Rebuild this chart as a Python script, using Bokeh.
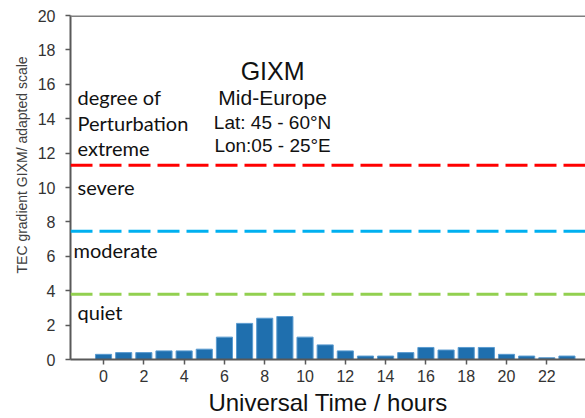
from bokeh.plotting import figure
from bokeh.models import Span, Label, FixedTicker, Range1d, Title
from bokeh.embed import file_html
from bokeh.resources import INLINE

# ---- data ----
hours = list(range(24))
tec = [0.3, 0.4, 0.4, 0.5, 0.5, 0.6, 1.3, 2.1, 2.4, 2.5, 1.3, 0.85,
       0.5, 0.2, 0.2, 0.4, 0.7, 0.55, 0.7, 0.7, 0.3, 0.2, 0.1, 0.2]
thresholds = [11.3, 7.45, 3.8]
threshold_colors = ["#ff0000", "#00b0f0", "#92d050"]
x_ticks = list(range(0, 25, 2))
y_ticks = list(range(0, 21, 2))
level_labels = ["degree of", "Perturbation", "extreme", "severe", "moderate", "quiet"]
title_lines = ["GIXM", "Mid-Europe", "Lat: 45 - 60°N", "Lon:05 - 25°E"]
x_title = "Universal Time / hours"
y_title = "TEC gradient GIXM/ adapted scale"

p = figure(width=585, height=418, output_backend="svg", toolbar_location=None,
           x_range=Range1d(-1.64, 23.92), y_range=Range1d(0, 20),
           min_border_left=70, min_border_right=0, min_border_top=15,
           min_border_bottom=58)
p.outline_line_color = None
p.xgrid.visible = False
p.ygrid.visible = False
p.background_fill_color = "white"
p.border_fill_color = "white"

p.vbar(x=hours, top=tec, width=0.8, fill_color="#1f6fae",
       line_color="#5a9bd0", line_width=1)

for loc, col in zip(thresholds, threshold_colors):
    p.add_layout(Span(location=loc, dimension="width", line_color=col,
                      line_width=3, line_dash="22 7"))

# top frame line
p.add_layout(Span(location=20, dimension="width", line_color="#7f7f7f", line_width=3))

tick_font = "Liberation Sans"
for ax in (p.xaxis[0], p.yaxis[0]):
    ax.axis_line_color = "#595959"
    ax.axis_line_width = 2
    ax.major_tick_line_color = "#595959"
    ax.major_tick_line_width = 1.5
    ax.major_tick_in = 0
    ax.major_tick_out = 5
    ax.minor_tick_line_color = None
    ax.major_label_text_font = tick_font
    ax.major_label_text_font_size = "16px"
    ax.major_label_text_color = "#333333"
p.xaxis.ticker = FixedTicker(ticks=x_ticks)
p.yaxis.ticker = FixedTicker(ticks=y_ticks)
p.xaxis.major_label_standoff = 5
p.yaxis.major_label_standoff = 10

p.xaxis.axis_label = x_title
p.xaxis.axis_label_text_font = "Liberation Sans"
p.xaxis.axis_label_text_font_size = "24px"
p.xaxis.axis_label_text_line_height = 1.0
p.xaxis.axis_label_text_font_style = "normal"
p.xaxis.axis_label_text_color = "#111111"
p.xaxis.axis_label_standoff = 4

# y title as a side title so it can sit off-centre like the original
p.add_layout(Title(text=y_title, align="left", offset=86, standoff=10,
                   text_font="Liberation Sans", text_font_size="14px",
                   text_font_style="normal", text_color="#404040"), "left")

# level texts
lvl_pos = [(-1.29, 15.25), (-1.29, 13.74), (-1.29, 12.29), (-1.29, 10.03),
           (-1.49, 6.38), (-1.29, 2.78)]
for t, (lx, ly) in zip(level_labels, lvl_pos):
    p.add_layout(Label(x=lx, y=ly, text=t, text_font="Lato", text_font_size="20px",
                       text_align="left", text_baseline="middle", text_color="#111111"))

# title block
ttl_pos = [16.75, 15.25, 13.8, 12.46]
ttl_size = ["25px", "21px", "19px", "19px"]
for t, ly, fs in zip(title_lines, ttl_pos, ttl_size):
    p.add_layout(Label(x=8.39, y=ly, text=t, text_font="Liberation Sans",
                       text_font_size=fs, text_align="center", text_baseline="middle",
                       text_color="#111111"))

open("out.html", "w").write(file_html(p, INLINE))
